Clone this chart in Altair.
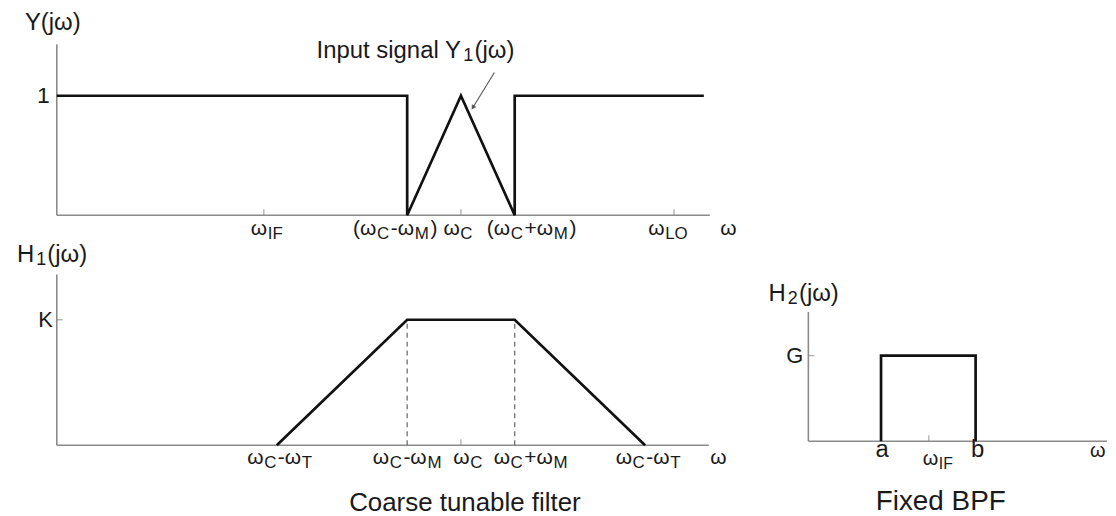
import math
import re
import altair as alt
import pandas as pd

FONT = "Liberation Sans"
TXT = "#1a1a1a"
LINE = "#111111"
AXC = "#8a8a8a"

# ---------------- data ----------------
# Top panel  Y(jw)   (frequency units: arbitrary, 0 = vertical axis)
TOP_AXIS_END = 32.8
TOP_AXIS_TOP = 1.43
TOP_SIG_X = [0.0, 17.6, 17.6, 20.3, 23.0, 23.0, 32.5]
TOP_SIG_Y = [1, 1, 0, 1, 0, 1, 1]
TOP_TICKS_X = [10.4, 20.3, 31.0]
TOP_TICKS_Y = [1.0]
TOP_LABELS = ["ω_{IF}", "(ω_{C}-ω_{M})", "ω_{C}", "(ω_{C}+ω_{M})", "ω_{LO}", "ω"]
TOP_LABEL_X = [10.55, 17.0, 20.15, 23.85, 30.7, 33.7]
TOP_LABEL_Y = [-0.117] * 6
TOP_YLABEL = ["1"]
TOP_YLABEL_POS = [(-0.35, 1.0)]
TOP_TITLE = ["Y(jω)"]
TOP_TITLE_POS = [(-1.6, 1.608)]
TOP_NOTE = ["Input signal Y_{1}(jω)"]
TOP_NOTE_POS = [(13.05, 1.375)]
TOP_ARROW_X = [21.98, 20.9]
TOP_ARROW_Y = [1.194, 0.902]

# Middle panel  H1(jw)
MID_AXIS_END = 32.75
MID_AXIS_TOP = 1.36
MID_SIG_X = [11.05, 17.6, 23.0, 29.55]
MID_SIG_Y = [0, 1, 1, 0]
MID_DASH_X = [17.6, 23.0]
MID_DASH_TOP = [1, 1]
MID_TICKS_X = [20.3]
MID_TICKS_Y = [1.0]
MID_LABELS = ["ω_{C}-ω_{T}", "ω_{C}-ω_{M}", "ω_{C}", "ω_{C}+ω_{M}", "ω_{C}-ω_{T}", "ω"]
MID_LABEL_X = [11.2, 17.6, 20.65, 23.8, 29.7, 33.2]
MID_LABEL_Y = [-0.099] * 6
MID_YLABEL = ["K"]
MID_YLABEL_POS = [(-0.2, 1.0)]
MID_TITLE = ["H_{1}(jω)"]
MID_TITLE_POS = [(-2.0, 1.516)]
MID_CAPTION = ["Coarse tunable filter"]
MID_CAPTION_POS = [(20.5, -0.46)]

# Right panel  H2(jw)
R_AXIS_END = 15.0
R_AXIS_TOP = 1.51
R_SIG_X = [3.65, 3.65, 8.4, 8.4]
R_SIG_Y = [0, 1, 1, 0]
R_TICKS_X = [6.05]
R_TICKS_Y = [1.0]
R_LETTERS = ["a", "b"]
R_LETTER_X = [3.7, 8.5]
R_LETTER_Y = [-0.105, -0.105]
R_LABELS = ["ω_{IF}", "ω"]
R_LABEL_X = [6.5, 14.5]
R_LABEL_Y = [-0.209, -0.116]
R_YLABEL = ["G"]
R_YLABEL_POS = [(-0.25, 1.0)]
R_TITLE = ["H_{2}(jω)"]
R_TITLE_POS = [(-2.0, 1.72)]
R_CAPTION = ["Fixed BPF"]
R_CAPTION_POS = [(6.65, -0.71)]

# ---------------- layout (view size, origin px, px per unit) ----------------
GEOM_TOP = (1104, 230, 49, 207, 20, 120)
GEOM_MID = (750, 270, 49, 208, 20, 126)
GEOM_R = (354, 270, 54, 204, 20, 86)

AW = {'(': 0.333, ')': 0.333, '-': 0.333, '+': 0.584, ' ': 0.278, 'ω': 0.72,
      'A': 0.667, 'B': 0.667, 'C': 0.722, 'F': 0.611, 'G': 0.778, 'H': 0.722,
      'I': 0.278, 'K': 0.667, 'L': 0.556, 'M': 0.833, 'O': 0.778, 'P': 0.667,
      'T': 0.611, 'Y': 0.667, 'a': 0.556, 'b': 0.556, 'c': 0.5, 'd': 0.556,
      'e': 0.556, 'f': 0.278, 'g': 0.556, 'i': 0.222, 'j': 0.222, 'l': 0.222,
      'n': 0.556, 'o': 0.556, 'p': 0.556, 'r': 0.333, 's': 0.5, 't': 0.278,
      'u': 0.556, 'x': 0.5, '1': 0.556, '2': 0.556}


def parse(markup):
    out = []
    for p in re.split(r'(_\{[^}]*\})', markup):
        if not p:
            continue
        if p.startswith('_{'):
            out.append((p[2:-1], True))
        else:
            out.append((p, False))
    return out


def label_rows(markup, x, y, main, sub, ux, anchor):
    segs = parse(markup)
    widths = [sum(AW.get(c, 0.56) for c in t) * (sub if s else main) for t, s in segs]
    adv = [w + min(w * 0.12, 2.0) for w in widths]
    total = sum(adv[:-1]) + widths[-1]
    start = {'left': 0.0, 'center': -total / 2, 'right': -total}[anchor]
    rows, cur = [], start
    for (t, s), a in zip(segs, adv):
        rows.append({'t': t, 'x': x + cur / ux, 'y': y, 'sub': s})
        cur += a
    return rows


def panel(geom, axis_end, axis_top, sig_x, sig_y, ticks_x, ticks_y, text_groups,
          dash_x=None, dash_top=None, arrow=None):
    w, h, ox, oy, ux, uy = geom
    xs = alt.Scale(domain=[-ox / ux, (w - ox) / ux], nice=False, zero=False)
    ys = alt.Scale(domain=[-(h - oy) / uy, oy / uy], nice=False, zero=False)

    def X(f):
        return alt.X(f, type='quantitative', scale=xs, axis=None)

    def Y(f):
        return alt.Y(f, type='quantitative', scale=ys, axis=None)

    layers = []
    axes_df = pd.DataFrame({'x': [0.0, 0.0], 'x2': [axis_end, 0.0],
                            'y': [0.0, 0.0], 'y2': [0.0, axis_top]})
    layers.append(alt.Chart(axes_df).mark_rule(color=AXC, strokeWidth=1.6).encode(
        x=X('x'), x2=alt.X2('x2'), y=Y('y'), y2=alt.Y2('y2')))
    tx = pd.DataFrame({'x': ticks_x, 'y': [0.0] * len(ticks_x)})
    layers.append(alt.Chart(tx).mark_tick(orient='vertical', size=6, thickness=1.3,
                                          yOffset=-3, color=AXC).encode(x=X('x'), y=Y('y')))
    ty = pd.DataFrame({'x': [0.0] * len(ticks_y), 'y': ticks_y})
    layers.append(alt.Chart(ty).mark_tick(orient='horizontal', size=6, thickness=1.3,
                                          xOffset=3, color=AXC).encode(x=X('x'), y=Y('y')))
    if dash_x:
        dd = pd.DataFrame({'x': dash_x, 'y': [0.0] * len(dash_x), 'y2': dash_top})
        layers.append(alt.Chart(dd).mark_rule(color='#707070', strokeWidth=1.3,
                                              strokeDash=[5, 4]).encode(
            x=X('x'), y=Y('y'), y2=alt.Y2('y2')))
    sig = pd.DataFrame({'x': sig_x, 'y': sig_y, 'i': list(range(len(sig_x)))})
    layers.append(alt.Chart(sig).mark_line(color=LINE, strokeWidth=2.7).encode(
        x=X('x'), y=Y('y'), order=alt.Order('i:Q')))
    if arrow:
        ax, ay = arrow
        ar = pd.DataFrame({'x': [ax[0]], 'y': [ay[0]], 'x2': [ax[1]], 'y2': [ay[1]]})
        layers.append(alt.Chart(ar).mark_rule(color='#555555', strokeWidth=1.1).encode(
            x=X('x'), y=Y('y'), x2=alt.X2('x2'), y2=alt.Y2('y2')))
        dxp = (ax[1] - ax[0]) * ux
        dyp = -(ay[1] - ay[0]) * uy
        ang = math.degrees(math.atan2(dxp, -dyp)) % 360
        head = pd.DataFrame({'x': [ax[1]], 'y': [ay[1]]})
        layers.append(alt.Chart(head).mark_point(shape='triangle-up', filled=True, size=28,
                                                 angle=ang, color='#555555', opacity=1).encode(
            x=X('x'), y=Y('y')))
    for rows, main, sub, dy in text_groups:
        df = pd.DataFrame(rows)
        m = df[~df['sub']]
        s = df[df['sub']]
        if len(m):
            layers.append(alt.Chart(m).mark_text(align='left', baseline='middle', font=FONT,
                                                 fontSize=main, color=TXT).encode(
                x=X('x'), y=Y('y'), text='t:N'))
        if len(s):
            layers.append(alt.Chart(s).mark_text(align='left', baseline='middle', font=FONT,
                                                 fontSize=sub, dy=dy, color=TXT).encode(
                x=X('x'), y=Y('y'), text='t:N'))
    return alt.layer(*layers).properties(width=w, height=h)


def group(labels, xs_, ys_, main, sub, ux, anchor, dy=5):
    rows = []
    for lab, x, y in zip(labels, xs_, ys_):
        rows += label_rows(lab, x, y, main, sub, ux, anchor)
    return (rows, main, sub, dy)


ux_top = GEOM_TOP[4]
top = panel(
    GEOM_TOP, TOP_AXIS_END, TOP_AXIS_TOP, TOP_SIG_X, TOP_SIG_Y, TOP_TICKS_X, TOP_TICKS_Y,
    [
        group(TOP_LABELS, TOP_LABEL_X, TOP_LABEL_Y, 21, 17, ux_top, 'center'),
        group(TOP_YLABEL, [p[0] for p in TOP_YLABEL_POS], [p[1] for p in TOP_YLABEL_POS], 23, 18, ux_top, 'right'),
        group(TOP_TITLE, [p[0] for p in TOP_TITLE_POS], [p[1] for p in TOP_TITLE_POS], 24, 18, ux_top, 'left'),
        group(TOP_NOTE, [p[0] for p in TOP_NOTE_POS], [p[1] for p in TOP_NOTE_POS], 24, 18, ux_top, 'left'),
    ],
    arrow=(TOP_ARROW_X, TOP_ARROW_Y),
)

ux_mid = GEOM_MID[4]
mid = panel(
    GEOM_MID, MID_AXIS_END, MID_AXIS_TOP, MID_SIG_X, MID_SIG_Y, MID_TICKS_X, MID_TICKS_Y,
    [
        group(MID_LABELS, MID_LABEL_X, MID_LABEL_Y, 21, 17, ux_mid, 'center'),
        group(MID_YLABEL, [p[0] for p in MID_YLABEL_POS], [p[1] for p in MID_YLABEL_POS], 22, 18, ux_mid, 'right'),
        group(MID_TITLE, [p[0] for p in MID_TITLE_POS], [p[1] for p in MID_TITLE_POS], 24, 18, ux_mid, 'left'),
        group(MID_CAPTION, [p[0] for p in MID_CAPTION_POS], [p[1] for p in MID_CAPTION_POS], 26, 18, ux_mid, 'center'),
    ],
    dash_x=MID_DASH_X, dash_top=MID_DASH_TOP,
)

ux_r = GEOM_R[4]
right = panel(
    GEOM_R, R_AXIS_END, R_AXIS_TOP, R_SIG_X, R_SIG_Y, R_TICKS_X, R_TICKS_Y,
    [
        group(R_LETTERS, R_LETTER_X, R_LETTER_Y, 24, 18, ux_r, 'center'),
        group(R_LABELS, R_LABEL_X, R_LABEL_Y, 20, 16, ux_r, 'center'),
        group(R_YLABEL, [p[0] for p in R_YLABEL_POS], [p[1] for p in R_YLABEL_POS], 22, 18, ux_r, 'right'),
        group(R_TITLE, [p[0] for p in R_TITLE_POS], [p[1] for p in R_TITLE_POS], 24, 18, ux_r, 'left'),
        group(R_CAPTION, [p[0] for p in R_CAPTION_POS], [p[1] for p in R_CAPTION_POS], 28, 18, ux_r, 'center'),
    ],
)

bottom = alt.hconcat(mid, right, spacing=0, bounds='flush')
chart = alt.vconcat(top, bottom, spacing=0, bounds='flush').properties(
    padding=0, background='white'
).configure_view(stroke=None)

chart.save("out.html", embed_options={"renderer": "svg", "actions": False})
